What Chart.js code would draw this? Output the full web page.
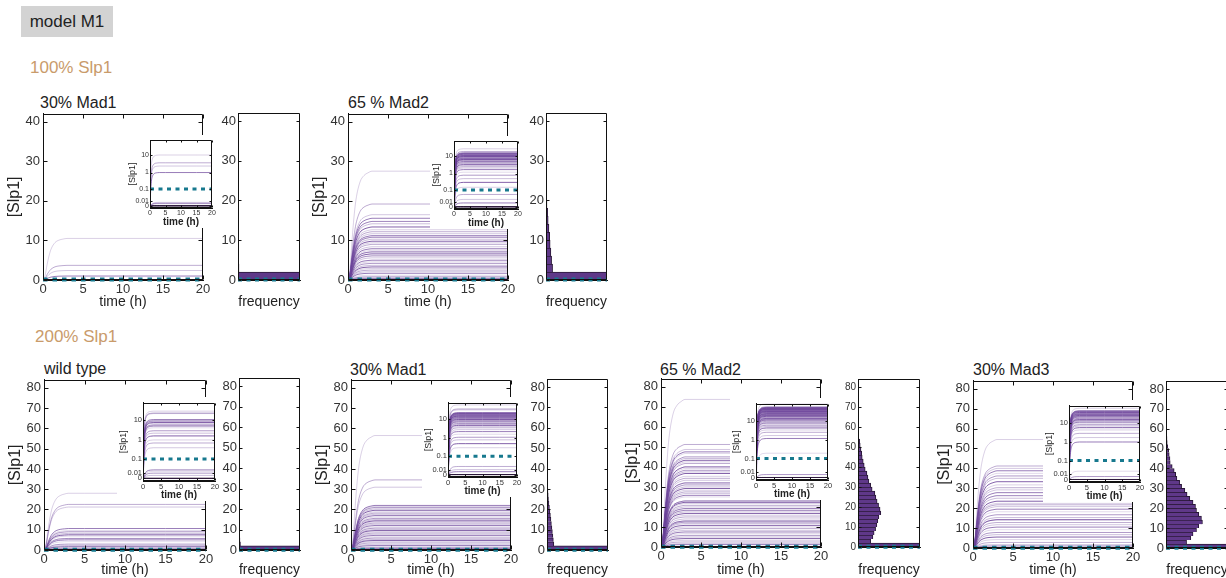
<!DOCTYPE html>
<html>
<head>
<meta charset="utf-8">
<script src="https://cdn.jsdelivr.net/npm/chart.js@4/dist/chart.umd.min.js"></script>
<style>
  body { margin: 0; background: #fff; }
  #fig { position: relative; width: 1226px; height: 578px; overflow: hidden; font-family: "Liberation Sans", Arial, sans-serif; }
  .lbl { position: absolute; white-space: nowrap; line-height: 1; color: #222; }
  .model { position: absolute; left: 21px; top: 6px; width: 92px; height: 31px; background: #d3d3d3;
           font-size: 17px; line-height: 31px; text-align: center; color: #222; }
  .cond { color: #c99b6b; font-size: 17px; }
  canvas { position: absolute; }
  canvas.inset { background: #fff; }
</style>
</head>
<body>
<div id="fig">
  <div class="model">model M1</div>
  <div class="lbl cond" style="left:30px;top:59px">100% Slp1</div>
  <div class="lbl cond" style="left:35px;top:328px">200% Slp1</div>
</div>
<script>
"use strict";

// time course shape shared by all simulated cells
var timeTicks = [0, 5, 10, 15, 20];
var riseTimes = [0, 0.25, 0.5, 0.75, 1, 1.5, 2, 2.5, 3, 5, 10, 15, 20];
var riseFraction = [0, 0.1, 0.36, 0.58, 0.74, 0.9, 0.96, 0.985, 1, 1, 1, 1, 1];
var threshold = 0.1;

// log inset axis
var insetTickValues = [0, 0.01, 0.1, 1, 10];
var insetTickLabels = ["0", "0.01", "0.1", "1", "10"];

// steady state [Slp1] per cell
var slp100Mad1 = [10.5, 3.7, 2.4, 1.0, 0.007, 0.005, 0.004, 0, 0, 0];
var slp100Mad2 = [27.5, 19.2, 16.5, 15.6, 14.8, 14.8, 14.2, 13.4, 12.7, 12.2, 11.7, 11.2, 10.8, 10.8,
  10.3, 9.8, 9.4, 9.0, 8.4, 7.9, 7.5, 7.1, 7.1, 6.6, 6.1, 6.1, 5.6, 5.0, 4.6, 4.2, 3.7, 3.3, 2.9,
  2.5, 2.1, 1.7, 1.2, 0.8, 0.5, 0.3, 0.15, 0.05, 0.02, 0.008, 0, 0, 0];
var slp200WT = [28.0, 22.5, 21.2, 10.6, 9.6, 9.0, 8.2, 7.5, 6.9, 5.7, 5.7, 5.0, 4.1, 2.9, 2.2, 1.6,
  1.0, 0.7, 0.4, 0.02, 0.015, 0.01, 0.005, 0, 0, 0, 0];
var slp200Mad1 = [56.5, 34.6, 31.0, 22.0, 21.5, 21.0, 20.3, 19.6, 18.8, 18.2, 17.6, 17.0, 16.3, 15.6,
  15.0, 14.4, 13.9, 13.3, 12.7, 12.1, 11.4, 10.8, 10.1, 9.6, 9.0, 8.4, 7.8, 7.2, 6.5, 5.9, 5.2, 4.7,
  4.1, 3.5, 2.8, 2.2, 1.6, 1.1, 0.8, 0.5, 0.3, 0.02, 0.01, 0.005, 0, 0, 0];
var slp200Mad2 = [73.7, 51.2, 48.7, 47.5, 46.7, 45.0, 44.2, 43.3, 42.5, 41.7, 40.0, 40.0, 39.2, 38.3,
  37.5, 36.7, 35.3, 34.3, 33.3, 32.0, 32.0, 31.0, 30.0, 29.2, 28.3, 27.5, 26.7, 25.8, 25.0, 23.0,
  23.0, 22.3, 21.7, 20.8, 20.0, 19.2, 18.3, 18.3, 17.5, 16.7, 15.8, 15.0, 14.0, 13.0, 13.0, 12.4,
  11.7, 10.8, 10.0, 9.2, 8.3, 7.5, 6.7, 5.8, 5.0, 4.2, 3.3, 2.5, 1.7, 1.2, 0.2, 0.005, 0, 0, 0];
var slp200Mad3 = [54.5, 41.2, 40.0, 38.8, 37.5, 36.2, 35.0, 33.3, 31.7, 30.3, 29.2, 27.8, 26.3, 26.3,
  25.0, 23.5, 22.4, 21.7, 20.8, 19.5, 18.2, 16.7, 15.3, 14.2, 14.2, 12.8, 11.7, 10.5, 9.2, 7.8, 6.7,
  5.5, 4.2, 2.8, 1.7, 1.0, 0.02, 0.005, 0, 0, 0];

// histogram counts, bins of width 2 starting at 0
var hist100Mad1 = [2000, 4, 2, 1];
var hist100Mad2 = [2000, 27, 23, 20, 17, 15, 12, 9, 7, 4, 2, 1, 1];
var hist200WT = [2000, 6, 4, 3, 2, 2, 2, 1, 1, 1, 1, 1, 1, 1, 1, 1];
var hist200Mad1 = [2000, 28, 26, 24, 22, 20, 18, 16, 14, 12, 10, 8, 6, 5, 4, 3, 2, 2, 2, 2, 1, 1, 1,
  1, 1, 1];
var hist200Mad2 = [2000, 51, 60, 65, 71, 76, 80, 84, 92, 89, 83, 77, 72, 68, 57, 51, 44, 40, 36, 29,
  25, 21, 17, 15, 12, 9, 7, 2, 2, 2, 1, 1, 1, 1, 1, 1, 1, 1];
var hist200Mad3 = [2000, 83, 100, 109, 123, 132, 147, 143, 132, 123, 119, 109, 96, 85, 76, 63, 55,
  44, 39, 33, 25, 17, 16, 13, 11, 7, 5, 4, 3, 3, 1, 1, 1, 1, 1, 1, 1, 1, 1, 1];

var binWidth = 2;
var freqMax = 250;
var logOffset = 0.012;

var teal = "#17798e";
var histFill = "#5f3889";
var traceAlpha = [0.25, 0.45, 0.3, 0.7, 0.2, 0.55, 0.35, 0.85];
var font = "'Liberation Sans', Arial, sans-serif";
var axisLine = { display: true, color: "#111", width: 1 };

var fig = document.getElementById("fig");

// box around the plot area with small inward ticks, matlab style
var frameTicks = {
  id: "frameTicks",
  afterDraw: function(chart, args, opts) {
    var ctx = chart.ctx, a = chart.chartArea, len = opts.len || 3;
    var sx = chart.scales.x, sy = chart.scales.y;
    var l = Math.round(a.left) + 0.5, r = Math.round(a.right) - 0.5;
    var t = Math.round(a.top) + 0.5, b = Math.round(a.bottom) - 0.5;
    ctx.save();
    ctx.setLineDash([]);
    ctx.globalAlpha = 1;
    ctx.strokeStyle = "#111";
    ctx.lineWidth = 1;
    ctx.beginPath();
    if (opts.xTicks) {
      sx.ticks.forEach(function(tk) {
        var px = Math.round(sx.getPixelForValue(tk.value)) + 0.5;
        ctx.moveTo(px, b); ctx.lineTo(px, b - len);
        ctx.moveTo(px, t); ctx.lineTo(px, t + len);
      });
    }
    sy.ticks.forEach(function(tk) {
      var py = Math.round(sy.getPixelForValue(tk.value)) + 0.5;
      ctx.moveTo(l, py); ctx.lineTo(l + len, py);
      ctx.moveTo(r, py); ctx.lineTo(r - len, py);
    });
    ctx.moveTo(l, t); ctx.lineTo(r, t); ctx.lineTo(r, b); ctx.lineTo(l, b); ctx.closePath();
    ctx.stroke();
    ctx.restore();
  }
};

function addCanvas(rect, m, cls) {
  var c = document.createElement("canvas");
  var w = Math.round(rect[2] + m.ml + m.mr), h = Math.round(rect[3] + m.mt + m.mb);
  c.width = w; c.height = h;
  c.style.left = (rect[0] - m.ml) + "px";
  c.style.top = (rect[1] - m.mt) + "px";
  c.style.width = w + "px";
  c.style.height = h + "px";
  if (cls) c.className = cls;
  fig.appendChild(c);
  return c;
}

function addLabel(text, x, y, size) {
  var d = document.createElement("div");
  d.className = "lbl";
  d.style.left = x + "px";
  d.style.top = (y - size / 2) + "px";
  d.style.fontSize = size + "px";
  d.textContent = text;
  fig.appendChild(d);
}

function traceSets(plateaus, tf, dashWidth, dash) {
  var sets = [{
    data: [{ x: 0, y: tf(threshold) }, { x: 20, y: tf(threshold) }],
    borderColor: teal, borderWidth: dashWidth, borderDash: dash,
    pointRadius: 0, clip: false
  }];
  plateaus.forEach(function(p, i) {
    sets.push({
      data: riseTimes.map(function(t, k) { return { x: t, y: tf(p * riseFraction[k]) }; }),
      borderColor: p === 0 ? "rgba(45,25,60,0.95)" : "rgba(110,70,155," + traceAlpha[i % traceAlpha.length] + ")",
      borderWidth: 1,
      pointRadius: 0,
      cubicInterpolationMode: "monotone"
    });
  });
  return sets;
}

function baseOptions(m, plugOpts) {
  return {
    animation: false, responsive: false, events: [],
    layout: { padding: { top: m.mt, right: m.mr, left: 0, bottom: 0 } },
    plugins: { legend: { display: false }, tooltip: { enabled: false }, frameTicks: plugOpts }
  };
}

var noGrid = { display: false, drawTicks: false };

function mainChart(p, labelY) {
  var m = { ml: 44, mr: 12, mt: 10, mb: Math.round(labelY + 8.4 - (p.main[1] + p.main[3])) };
  var opts = baseOptions(m, { xTicks: true, len: 4 });
  opts.scales = {
    x: {
      type: "linear", min: 0, max: 20,
      afterBuildTicks: function(s) { s.ticks = timeTicks.map(function(v) { return { value: v }; }); },
      afterFit: function(s) { s.height = m.mb; },
      grid: noGrid, border: axisLine,
      ticks: { autoSkip: false, maxRotation: 0, padding: 2, color: "#333", font: { family: font, size: 13 } },
      title: { display: true, text: "time (h)", color: "#222", padding: 0, font: { family: font, size: 14 } }
    },
    y: {
      type: "linear", min: 0, max: p.yMax,
      afterFit: function(s) { s.width = m.ml; },
      grid: noGrid, border: axisLine,
      ticks: { stepSize: 10, includeBounds: false, padding: 3, color: "#333", font: { family: font, size: 13 } },
      title: { display: true, text: "[Slp1]", color: "#222", padding: { top: 6, bottom: 0 }, font: { family: font, size: 16 } }
    }
  };
  new Chart(addCanvas(p.main, m), {
    type: "line",
    data: { datasets: traceSets(p.slp, function(v) { return v; }, 4, [4.5, 5]) },
    options: opts,
    plugins: [frameTicks]
  });
}

function insetChart(p, tickSize) {
  var m = { ml: p.row === 0 ? 24 : 26, mr: 6, mt: 4, mb: 20 };
  var tf = function(v) { return Math.log10(v + logOffset); };
  var opts = baseOptions(m, { xTicks: true, len: 2 });
  opts.scales = {
    x: {
      type: "linear", min: 0, max: 20,
      afterBuildTicks: function(s) { s.ticks = timeTicks.map(function(v) { return { value: v }; }); },
      afterFit: function(s) { s.height = m.mb; },
      grid: noGrid, border: axisLine,
      ticks: { autoSkip: false, maxRotation: 0, padding: 1, color: "#333", font: { family: font, size: tickSize } },
      title: { display: true, text: "time (h)", color: "#222", padding: 0, font: { family: font, size: 10, weight: "bold" } }
    },
    y: {
      type: "linear", min: -2.05, max: 1.88,
      afterBuildTicks: function(s) { s.ticks = insetTickValues.map(function(v) { return { value: tf(v) }; }); },
      afterFit: function(s) { s.width = m.ml; },
      grid: noGrid, border: axisLine,
      ticks: {
        autoSkip: false, padding: 1, color: "#333", font: { family: font, size: tickSize },
        callback: function(v, i) { return insetTickLabels[i]; }
      },
      title: { display: true, text: "[Slp1]", color: "#222", padding: { top: 1, bottom: 0 }, font: { family: font, size: 9 } }
    }
  };
  new Chart(addCanvas(p.inset, m, "inset"), {
    type: "line",
    data: { datasets: traceSets(p.slp, tf, 3, [4, 4.5]) },
    options: opts,
    plugins: [frameTicks]
  });
}

function histChart(p, labelY) {
  var m = { ml: 26, mr: 8, mt: 10, mb: Math.round(labelY + 8.4 - (p.hist[1] + p.hist[3])) };
  var opts = baseOptions(m, { xTicks: false, len: 3 });
  opts.scales = {
    x: {
      type: "linear", min: 0, max: freqMax, offset: false,
      afterFit: function(s) { s.height = m.mb; },
      grid: noGrid, border: axisLine,
      ticks: { display: false },
      title: { display: true, text: "frequency", color: "#222", padding: 0, font: { family: font, size: 14 } }
    },
    y: {
      type: "linear", min: 0, max: p.yMax, offset: false,
      afterFit: function(s) { s.width = m.ml; },
      grid: noGrid, border: axisLine,
      ticks: { stepSize: 10, includeBounds: false, padding: 2, color: "#333", font: { family: font, size: p.histFont || 13 } }
    }
  };
  var bars = p.counts.map(function(c, i) { return { x: c, y: (i + 0.5) * binWidth }; });
  new Chart(addCanvas(p.hist, m), {
    type: "bar",
    data: {
      datasets: [{
        type: "line",
        data: [{ x: 0, y: threshold }, { x: freqMax, y: threshold }],
        borderColor: teal, borderWidth: 4, borderDash: [4, 4.5], pointRadius: 0, clip: false
      }, {
        type: "bar", indexAxis: "y", data: bars,
        backgroundColor: histFill, borderColor: "#2a1838",
        borderWidth: { top: 1, right: 1, bottom: 0, left: 0 }, borderSkipped: false,
        barPercentage: 1, categoryPercentage: 1
      }]
    },
    options: opts,
    plugins: [frameTicks]
  });
}

// plot rectangles are [left, top, width, height]
var panels = [
  { row: 0, title: "30% Mad1", tx: 40, ty: 103, slp: slp100Mad1, counts: hist100Mad1, yMax: 42,
    main: [43, 113, 160, 167], hist: [238, 113, 62, 167], inset: [150, 139, 62, 69] },
  { row: 0, title: "65 % Mad2", tx: 348, ty: 103, slp: slp100Mad2, counts: hist100Mad2, yMax: 42,
    main: [348, 113, 160, 167], hist: [546, 113, 61, 167], inset: [454, 140, 64, 69] },
  { row: 1, title: "wild type", tx: 44, ty: 369, slp: slp200WT, counts: hist200WT, yMax: 84,
    main: [44, 379, 162, 171], hist: [239, 378, 61, 172], inset: [143, 401, 72, 80] },
  { row: 1, title: "30% Mad1", tx: 350, ty: 370, slp: slp200Mad1, counts: hist200Mad1, yMax: 84,
    main: [351, 379, 160, 171], hist: [547, 379, 61, 171], inset: [448, 401, 69, 76] },
  { row: 1, title: "65 % Mad2", tx: 660, ty: 370, slp: slp200Mad2, counts: hist200Mad2, yMax: 84,
    main: [661, 378, 160, 169], hist: [858, 379, 62, 168], inset: [756, 402, 72, 78], histFont: 10 },
  { row: 1, title: "30% Mad3", tx: 973, ty: 370, slp: slp200Mad3, counts: hist200Mad3, yMax: 84,
    main: [973, 380, 160, 168], hist: [1166, 381, 62, 167], inset: [1069, 404, 71, 78] }
];

var rowLabelY = [302.7, 570.3];

panels.forEach(function(p) {
  addLabel(p.title, p.tx, p.ty, 16);
  mainChart(p, rowLabelY[p.row]);
  histChart(p, rowLabelY[p.row]);
});
// insets go last so they sit over the main panels
panels.forEach(function(p) {
  insetChart(p, p.row === 0 ? 7 : 7.5);
});
</script>
</body>
</html>
